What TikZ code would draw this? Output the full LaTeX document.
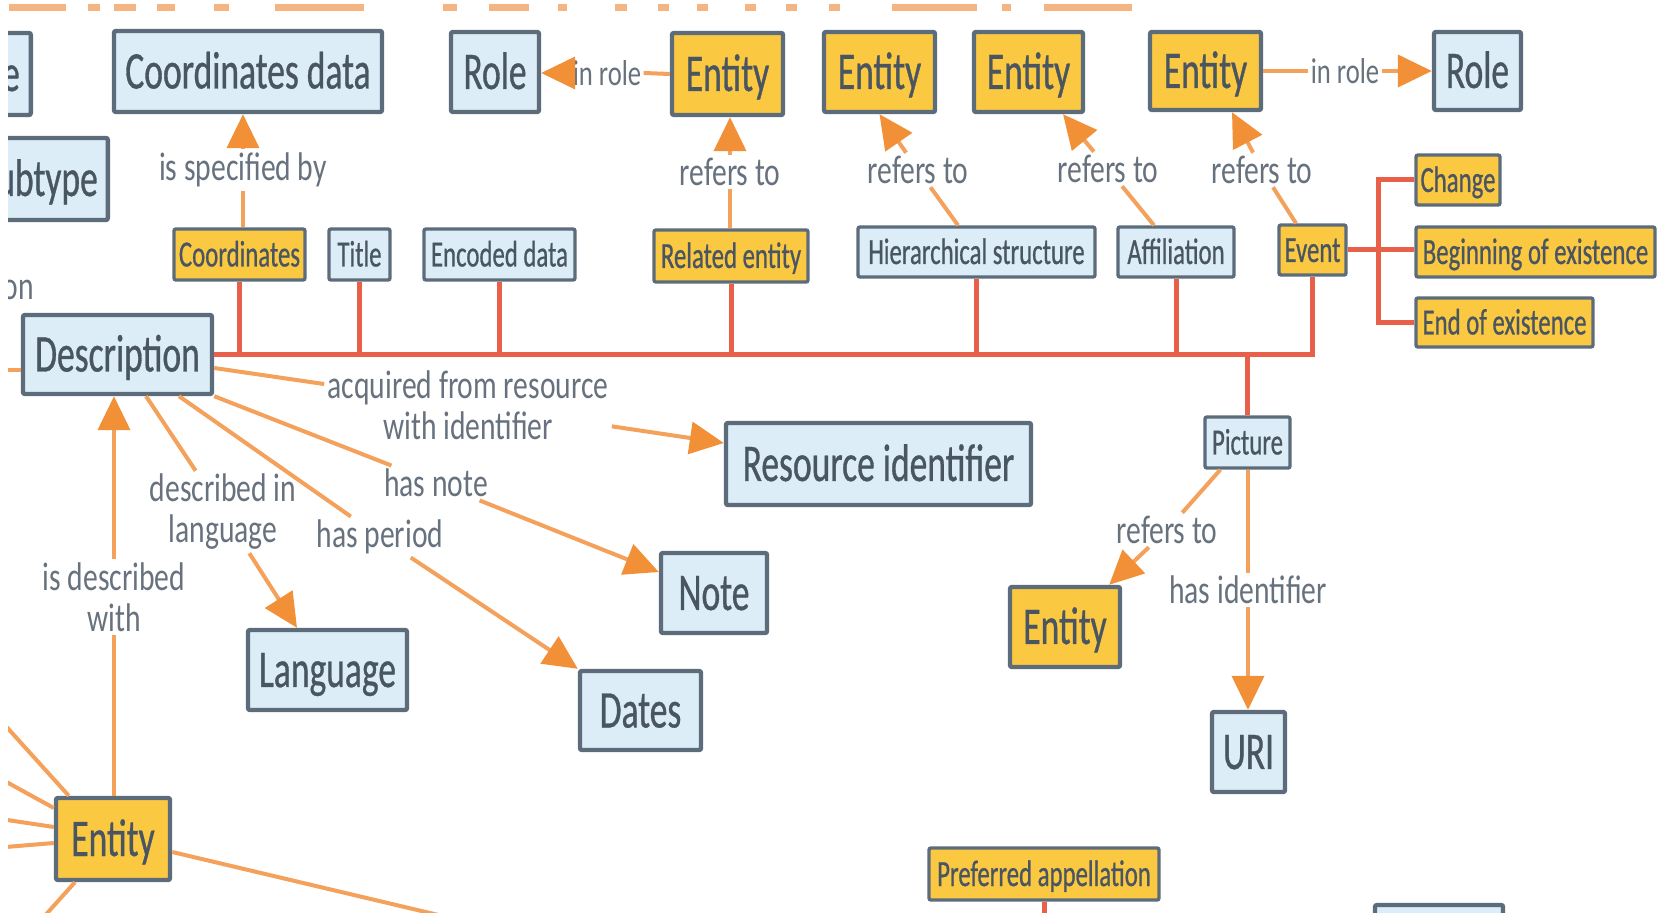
\documentclass[tikz,border=0pt]{standalone}
\usepackage{fontspec}
\setmainfont{Carlito}[FakeStretch=0.67]
\newfontfamily\boxfont{Carlito}[FakeStretch=0.67, FakeBold=0.6]
\newfontfamily\lblfont{Carlito}[FakeStretch=0.74]
\usetikzlibrary{arrows.meta}

\definecolor{boxline}{HTML}{5C6C7B}
\definecolor{bluefill}{HTML}{DCEDF7}
\definecolor{yelfill}{HTML}{FBC842}
\definecolor{boxtext}{HTML}{4A5562}
\definecolor{lbltext}{HTML}{67727E}
\definecolor{connc}{HTML}{F4A15C}
\definecolor{tipc}{HTML}{F29038}
\definecolor{busc}{HTML}{E9604A}
\definecolor{titleor}{HTML}{F5B582}

\tikzset{
  box/.style={draw=boxline, line width=2.2pt, rounded corners=1pt, text=boxtext,
    inner sep=0pt, font=\boxfont\fontsize{26.5}{30}\selectfont, text height=17pt, text depth=0pt},
  bigblue/.style={box, fill=bluefill},
  bigyel/.style={box, fill=yelfill},
  smallbox/.style={box, line width=1.7pt, font=\boxfont\fontsize{18.5}{22}\selectfont, text height=12pt},
  smallblue/.style={smallbox, fill=bluefill},
  smallyel/.style={smallbox, fill=yelfill},
  sz/.style 2 args={minimum width=#1*0.5pt, minimum height=#2*0.5pt},
  lbl/.style={text=lbltext, font=\lblfont\fontsize{20}{20.5}\selectfont, align=center, inner sep=1.5pt},
  lblsmall/.style={lbl, font=\lblfont\fontsize{18}{19}\selectfont, inner sep=1pt},
  conn/.style={draw=connc, line width=2pt},
  arr/.style={conn, -{Triangle[length=17pt,width=16pt,color=tipc]}},
  busline/.style={draw=busc, line width=2.5pt},
}

\begin{document}
\begin{tikzpicture}[x=0.5pt, y=-0.5pt]
\useasboundingbox (0,0) rectangle (1659,913);
\fill[white] (0,0) rectangle (1659,913);
\begin{scope}
\clip (8,0) rectangle (1659,913);

% lower edge of the orange heading
\foreach \a/\b in {9/66, 88/100, 114/136, 157/175, 214/229, 275/364,
                   443/457, 489/529, 558/567, 615/627, 658/669, 697/708,
                   745/756, 786/797, 829/840, 892/977, 1002/1011, 1044/1132}
  \fill[titleor] (\a,4) rectangle (\b,11);

% left-hand boxes, partly outside the frame
\node[bigblue, anchor=east, minimum height=41pt, inner xsep=5.5pt, text width=35pt, align=right] (typebox) at (33,74) {e};
\node[bigblue, anchor=east, minimum height=41pt, inner xsep=5pt, text width=65pt, align=right] (subtype) at (110,179) {ubtype};
\node[lbl, anchor=east] (onlbl) at (37,290) {on};

% top row
\node[bigblue, sz={268}{81}] (coordData) at (248,71.5) {Coordinates data};
\node[bigblue, sz={88}{80}] (role1) at (495,72) {Role};
\node[bigyel, sz={111}{82}] (ent1) at (727.5,74) {Entity};
\node[bigyel, sz={111}{80}] (ent2) at (879.5,72) {Entity};
\node[bigyel, sz={109}{80}] (ent3) at (1028.5,72) {Entity};
\node[bigyel, sz={111}{78}] (ent4) at (1205.5,71) {Entity};
\node[bigblue, sz={87}{78}] (role2) at (1477.5,71) {Role};

% facets of the description
\node[smallyel, sz={131}{51}] (coords) at (239.5,254.5) {Coordinates};
\node[smallblue, sz={61}{51}] (title) at (359.5,254.5) {Title};
\node[smallblue, sz={151}{51}] (encoded) at (499.5,254.5) {Encoded data};
\node[smallyel, sz={154}{52}] (relent) at (731,256) {Related entity};
\node[smallblue, sz={237}{50}] (hier) at (976.5,252) {Hierarchical structure};
\node[smallblue, sz={116}{50}] (affil) at (1176,252) {Affiliation};
\node[smallyel, sz={67}{50}] (event) at (1312.5,250) {Event};
\node[smallyel, sz={84}{50}] (change) at (1458,180) {Change};
\node[smallyel, sz={239}{50}] (begin) at (1535.5,252) {Beginning of existence};
\node[smallyel, sz={177}{49}] (endex) at (1504.5,322.5) {End of existence};
\node[smallblue, sz={85}{51}] (picture) at (1247.5,442.5) {Picture};

% main boxes
\node[bigblue, sz={189}{79}] (desc) at (117.5,354.5) {Description};
\node[bigblue, sz={305}{82}] (resid) at (878.5,464) {Resource identifier};
\node[bigblue, sz={106}{80}] (note) at (714,593) {Note};
\node[bigyel, sz={110}{80}] (ent5) at (1065,627) {Entity};
\node[bigblue, sz={73}{80}] (uri) at (1248.5,752) {URI};
\node[bigblue, sz={159}{80}] (language) at (327.5,670) {Language};
\node[bigblue, sz={121}{79}] (dates) at (640.5,710.5) {Dates};
\node[bigyel, sz={114}{82}] (ent6) at (113,839) {Entity};
\node[smallyel, sz={230}{52}] (prefapp) at (1044,874) {Preferred appellation};
\node[bigblue, sz={128}{70}] (partbox) at (1439,940) {};

% connector labels
\node[lbl] (l1) at (243,170) {is specified by};
\node[lblsmall] (l2) at (607,73) {in role};
\node[lbl] (l3) at (730,172) {refers to};
\node[lbl] (l4) at (918,170) {refers to};
\node[lbl] (l5) at (1108,169) {refers to};
\node[lbl] (l6) at (1262,170) {refers to};
\node[lblsmall] (l7) at (1345,71) {in role};
\node[lbl] (l8) at (468,405) {acquired from resource\\with identifier};
\node[lbl] (l9) at (436,483) {has note};
\node[lbl] (l10) at (380,537) {has period};
\node[lbl] (l11) at (223,512) {described in\\language};
\node[lbl] (l12) at (114,597) {is described\\with};
\node[lbl] (l13) at (1167,530) {refers to};
\node[lbl] (l14) at (1248,590) {has identifier};

% red bus joining the facets to the description
\draw[busline] (desc.east) -| (event.south);
\foreach \n in {coords,title,encoded,relent,hier,affil}
  \draw[busline] (\n.south) -- (\n.south |- desc.east);
\draw[busline] (picture.north) -- (picture.north |- desc.east);
\draw[busline] (event.east) -- (event.east -| begin.west);
\draw[busline] (change.west) -- ++(-36,0) |- (endex.west);
\draw[busline] (prefapp.south) -- ++(0,20);

% labelled relations
\draw[conn] (l1 |- coords.north) -- (l1.south);
\draw[arr] (l1.north) -- (l1 |- coordData.south);
\draw[conn] (ent1.west) -- (l2.east);
\draw[arr] (l2.west) -- (l2.west -| role1.east);
\draw[conn] (l3 |- relent.north) -- (l3.south);
\draw[arr] (l3.north) -- (l3 |- ent1.south);
\draw[conn] ([xshift=-9.25pt]hier.north) -- (l4);
\draw[arr] (l4) -- (ent2.south);
\draw[conn] ([xshift=-11pt]affil.north) -- (l5);
\draw[arr] (l5) -- ([xshift=17.25pt]ent3.south);
\draw[conn] ([xshift=-8.25pt]event.north) -- (l6);
\draw[arr] (l6) -- ([xshift=13.25pt]ent4.south);
\draw[conn] (ent4.east) -- (l7.west);
\draw[arr] (l7.east) -- (l7.east -| role2.west);

\draw[conn] ([yshift=-6.75pt]desc.east) -- (l8);
\draw[arr] (l8) -- ([yshift=10.5pt]resid.west);
\draw[conn] (desc.south east) -- (l9);
\draw[arr] (l9) -- ([yshift=10.5pt]note.west);
\draw[conn] ([xshift=30.75pt]desc.south) -- (l10);
\draw[arr] (l10) -- (dates.north west);
\draw[conn] ([xshift=14.25pt]desc.south) -- (l11);
\draw[arr] (l11) -- ([xshift=-15.25pt]language.north);
\draw[conn] (l12 |- ent6.north) -- (l12.south);
\draw[arr] (l12.north) -- (l12 |- desc.south);

\draw[conn] ([xshift=8.5pt]picture.south west) -- (l13);
\draw[arr] (l13) -- ([xshift=-6.5pt]ent5.north east);
\draw[conn] (l14 |- picture.south) -- (l14.north);
\draw[arr] (l14.south) -- (l14 |- uri.north);

% relations leaving the frame
\draw[conn] ([yshift=-7.75pt]desc.west) -- ++(-30,0);
\draw[conn] ([xshift=7.5pt]ent6.north west) -- ++(-75,-83);
\draw[conn] ([yshift=15.5pt]ent6.west) -- ++(-60,-33);
\draw[conn] ([yshift=6pt]ent6.west) -- ++(-60,-9);
\draw[conn] ([yshift=-2pt]ent6.west) -- ++(-60,5);
\draw[conn] ([xshift=-19pt]ent6.south) -- ++(-45,50);
\draw[conn] ([yshift=-6.5pt]ent6.east) -- ++(300,71);
\end{scope}
\end{tikzpicture}
\end{document}
